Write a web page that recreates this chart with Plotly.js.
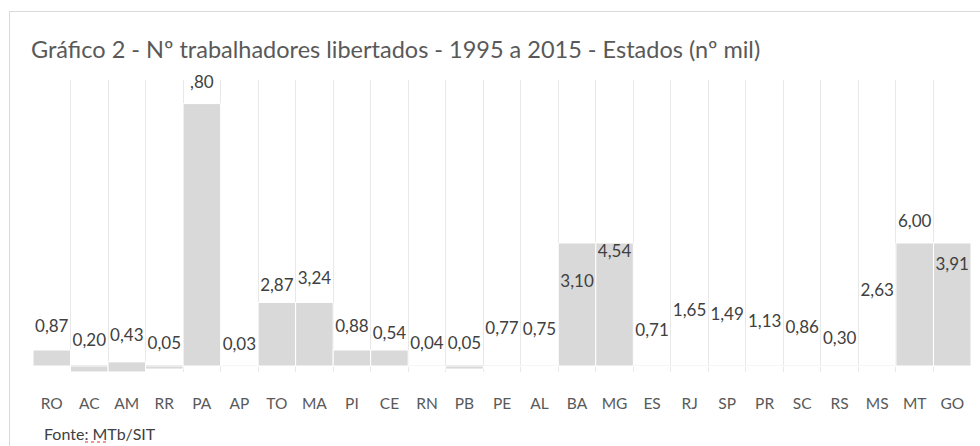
<!DOCTYPE html>
<html><head><meta charset="utf-8">
<script src="https://cdn.plot.ly/plotly-3.0.1.min.js"></script>
<style>
html,body{margin:0;padding:0;background:#fff;overflow:hidden}
#wrap{position:relative;width:980px;height:446px}
#chart{position:absolute;left:0;top:0;width:980px;height:446px}
#frame{position:absolute;left:9px;top:11px;width:980px;height:446px;border-top:1px solid #d9d9d9;border-left:1px solid #d9d9d9;pointer-events:none}
</style></head><body>
<div id="wrap"><div id="chart"></div><div id="frame"></div></div>
<script>
// Categorias (estados)
const estados = ['RO','AC','AM','RR','PA','AP','TO','MA','PI','CE','RN','PB','PE','AL','BA','MG','ES','RJ','SP','PR','SC','RS','MS','MT','GO'];
// Alturas das barras tal como aparecem no gráfico original
const barras = [0.78, -0.29, 0.49, -0.15, 12.8, 0, 3.1, 3.1, 0.78, 0.78, 0, -0.15, 0, 0, 6.0, 6.0, 0, 0, 0, 0, 0, 0, 0, 6.0, 6.0];
const bases  = [0, 0, -0.29, 0, 0, 0, 0, 0, 0, 0, 0, 0, 0, 0, 0, 0, 0, 0, 0, 0, 0, 0, 0, 0, 0];
// Valores dos rótulos (nº mil)
const valores = [0.87, 0.20, 0.43, 0.05, 12.80, 0.03, 2.87, 3.24, 0.88, 0.54, 0.04, 0.05, 0.77, 0.75, 3.10, 4.54, 0.71, 1.65, 1.49, 1.13, 0.86, 0.30, 2.63, 6.00, 3.91];
const rotulos = ['0,87','0,20','0,43','0,05',',80','0,03','2,87','3,24','0,88','0,54','0,04','0,05','0,77','0,75','3,10','4,54','0,71','1,65','1,49','1,13','0,86','0,30','2,63','6,00','3,91'];

const FONT = 'Lato, "Open Sans", sans-serif';

const traces = [
  {
    type: 'bar', x: estados, y: barras, base: bases,
    marker: {color: '#d9d9d9', line: {color: '#ffffff', width: 1}},
    hoverinfo: 'skip', showlegend: false
  },
  {
    type: 'scatter', mode: 'text', x: estados, y: valores, text: rotulos,
    textposition: 'middle center', yaxis: 'y2', cliponaxis: false,
    textfont: {family: FONT, size: 17, color: '#404040'},
    hoverinfo: 'skip', showlegend: false
  }
];

const layout = {
  width: 980, height: 446,
  margin: {l: 33, r: 9, t: 80, b: 74, pad: 0},
  paper_bgcolor: '#ffffff', plot_bgcolor: '#ffffff',
  bargap: 0,
  showlegend: false,
  hovermode: false,
  title: {
    text: 'Gráfico 2 - Nº trabalhadores libertados - 1995 a 2015 - Estados (nº mil)',
    x: 31/980, xanchor: 'left', y: 1 - 50/446, yanchor: 'middle',
    font: {family: FONT, size: 23.5, color: '#595959'}
  },
  xaxis: {
    type: 'category', categoryorder: 'array', categoryarray: estados,
    range: [-0.5, 24.5], tickson: 'boundaries',
    showgrid: true, gridcolor: '#e8e8e8', gridwidth: 1,
    ticks: '', showline: false, zeroline: false,
    ticklabelstandoff: 20,
    tickfont: {family: FONT, size: 15.5, color: '#595959'},
    fixedrange: true
  },
  yaxis: {
    range: [-0.293, 13.95], showgrid: false, showticklabels: false, ticks: '',
    zeroline: true, zerolinecolor: '#d9d9d9', zerolinewidth: 1, showline: false,
    fixedrange: true
  },
  yaxis2: {
    overlaying: 'y', range: [-1.269, 12.974], visible: false, fixedrange: true
  },
  annotations: [{
    text: 'Fonte: MTb/SIT', xref: 'paper', yref: 'paper',
    x: (42-33)/938, xanchor: 'left', y: (372-433)/292, yanchor: 'middle',
    showarrow: false, font: {family: FONT, size: 16, color: '#404040'}
  }],
  shapes: [{
    type: 'line', xref: 'paper', yref: 'paper',
    x0: (85-33)/938, x1: (108-33)/938, y0: (372-442)/292, y1: (372-442)/292,
    line: {color: '#e03030', width: 1.2, dash: 'dot'}
  }]
};

Plotly.newPlot('chart', traces, layout, {displayModeBar: false, staticPlot: true});
</script>
</body></html>
